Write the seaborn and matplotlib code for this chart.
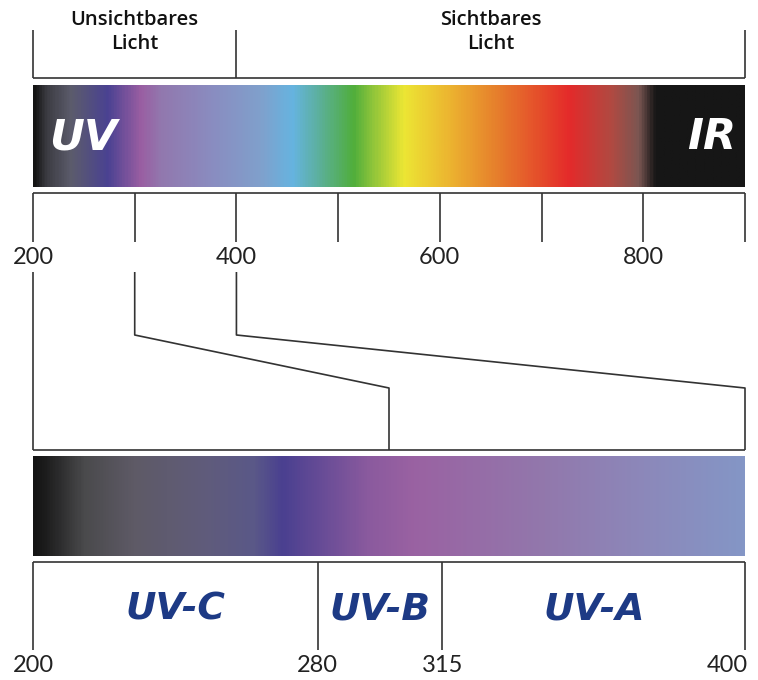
import numpy as np
import pandas as pd
import seaborn as sns
import matplotlib.pyplot as plt
from matplotlib.colors import LinearSegmentedColormap

# Werte aus dem Bild
spektrum_min, spektrum_max = 200, 900
haupt_ticks = [200, 300, 400, 500, 600, 700, 800, 900]
haupt_labels = [200, 400, 600, 800]
bereiche = ['Unsichtbares\nLicht', 'Sichtbares\nLicht']
bereich_grenzen = [200, 400, 900]
uv_grenzen = [200, 280, 315, 400]
uv_namen = ['UV-C', 'UV-B', 'UV-A']
zoom_von, zoom_bis = 200, 400

# Farbverlauf (Wellenlaenge, Farbe)
farben_oben = [(200, '#141414'), (212, '#3c3c42'), (236, '#5c5c6c'), (272, '#4a4292'),
               (305, '#9a5ea2'), (325, '#9278ae'), (374, '#8a8cc0'), (423, '#80a0cc'),
               (455, '#66b4e0'), (480, '#5cb09e'), (515, '#50ae3c'), (535, '#92c63a'),
               (565, '#ece634'), (610, '#ecb430'), (659, '#e67c2c'), (728, '#e42a2a'),
               (770, '#b04a42'), (797, '#7a5652'), (813, '#161616'), (900, '#161616')]
farben_unten = [(200, '#141414'), (203, '#1c1c1c'), (214, '#4a4a4c'), (228, '#5e5a66'),
                (247, '#605c7a'), (262, '#5a5888'), (270, '#4a4090'), (294, '#8a5a9e'),
                (307, '#9a62a2'), (344, '#9278ac'), (372, '#8c88ba'), (400, '#8496c6')]

sns.set_theme(style='white')
plt.rcParams['font.family'] = ['Lato', 'DejaVu Sans']

linie = dict(color='#333333', linewidth=1.2, solid_capstyle='butt')
faktor = (spektrum_max - spektrum_min) / (zoom_bis - zoom_von)
fett = dict(family='DejaVu Sans', fontweight='bold', fontstyle='oblique')


def unten(nm):
    # Skala des unteren Balkens auf die obere Skala umrechnen
    return spektrum_min + (np.asarray(nm, dtype=float) - zoom_von) * faktor


def verlauf(stops, lo, hi):
    pos = [(w - lo) / (hi - lo) for w, _ in stops]
    return LinearSegmentedColormap.from_list('v', list(zip(pos, [c for _, c in stops])))


def zahl(x, y, wert, rechts=False):
    ax.annotate(str(wert), (x, y), xytext=(-13 if rechts else 0, 0),
                textcoords='offset points', ha='center', va='center',
                fontsize=17, color='#222222', fontweight='normal')


fig = plt.figure(figsize=(7.58, 6.8), dpi=100)
ax = fig.add_axes([0, 0, 1, 1])
px = 712 / (spektrum_max - spektrum_min)
ax.set_xlim(spektrum_min - 33 / px, spektrum_min + (758 - 33) / px)
ax.set_ylim(680, 0)
ax.axis('off')

# obere Klammer
for g in bereich_grenzen:
    ax.plot([g, g], [30, 78], **linie)
ax.plot([bereich_grenzen[0], bereich_grenzen[-1]], [78, 78], **linie)
for i, name in enumerate(bereiche):
    mitte = (bereich_grenzen[i] + bereich_grenzen[i + 1]) / 2
    ax.text(mitte, 32, name, ha='center', va='center', fontsize=14.5,
            linespacing=1.25, color='#111111', family=['Open Sans', 'DejaVu Sans'],
            fontweight='semibold')

# Spektrum oben
grad = np.linspace(0, 1, 800).reshape(1, -1)
ax.imshow(grad, cmap=verlauf(farben_oben, spektrum_min, spektrum_max), aspect='auto',
          extent=[spektrum_min, spektrum_max, 187, 85], interpolation='bilinear')
ax.text(249, 137, 'UV', ha='center', va='center', fontsize=31, color='white', **fett)
ax.text(867, 137, 'IR', ha='center', va='center', fontsize=31, color='white', **fett)

# Skala oben
ax.plot([spektrum_min, spektrum_max], [193, 193], **linie)
for t in haupt_ticks:
    ax.plot([t, t], [193, 242], **linie)
for t in haupt_labels:
    zahl(t, 258, t)

# Zoomlinien
zoom = pd.DataFrame({
    'x': [zoom_von, zoom_von,
          300, 300, unten(300), unten(300),
          zoom_bis, zoom_bis, unten(zoom_bis), unten(zoom_bis)],
    'y': [272, 450,
          272, 335, 388, 450,
          272, 335, 388, 450],
    'linie': ['a'] * 2 + ['b'] * 4 + ['c'] * 4,
})
for _, d in zoom.groupby('linie'):
    ax.plot(d['x'], d['y'], **linie)
ax.plot([unten(zoom_von), unten(zoom_bis)], [450, 450], **linie)

# Spektrum unten
ax.imshow(grad, cmap=verlauf(farben_unten, zoom_von, zoom_bis), aspect='auto',
          extent=[unten(zoom_von), unten(zoom_bis), 556, 456], interpolation='bilinear')

# Skala unten
ax.plot([unten(zoom_von), unten(zoom_bis)], [562, 562], **linie)
for g in uv_grenzen:
    ax.plot([unten(g), unten(g)], [562, 650], **linie)
    zahl(unten(g), 665, g, rechts=(g == uv_grenzen[-1]))
for i, name in enumerate(uv_namen):
    mitte = (unten(uv_grenzen[i]) + unten(uv_grenzen[i + 1])) / 2
    ax.text(mitte, 610, name, ha='center', va='center', fontsize=27, color='#1d3a85', **fett)

fig.savefig('out.png', dpi=100)
